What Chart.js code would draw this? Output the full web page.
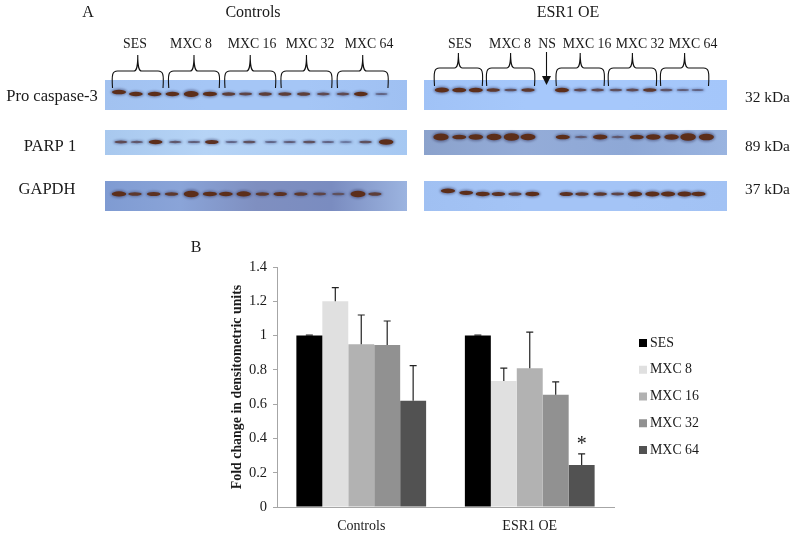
<!DOCTYPE html>
<html>
<head>
<meta charset="utf-8">
<title>Pro caspase-3, PARP 1 and GAPDH blots</title>
<script src="https://cdn.jsdelivr.net/npm/chart.js@4"></script>
<style>
    html, body { margin: 0; padding: 0; background: #fff; }
    canvas { display: block; }
</style>
</head>
<body>
<canvas id="blotChart" width="800" height="225"></canvas>
<canvas id="barChart" width="800" height="311"></canvas>
<script>
// bar chart values
const groups = ['Controls', 'ESR1 OE'];
const seriesNames = ['SES', 'MXC 8', 'MXC 16', 'MXC 32', 'MXC 64'];
const sesValues = [1, 1];
const mxc8Values = [1.2, 0.735];
const mxc16Values = [0.95, 0.81];
const mxc32Values = [0.945, 0.655];
const mxc64Values = [0.62, 0.245];
// top end of each error bar
const sesUpper = [1.003, 1.003];
const mxc8Upper = [1.28, 0.81];
const mxc16Upper = [1.12, 1.02];
const mxc32Upper = [1.085, 0.73];
const mxc64Upper = [0.825, 0.31];
const yTicks = [0, 0.2, 0.4, 0.6, 0.8, 1, 1.2, 1.4];

// blot lanes, band position in lane units, band density 0..1
const controlsProLanes = [1, 1.9, 2.9, 3.85, 4.85, 5.85, 6.85, 7.75, 8.8, 9.85, 10.85, 11.9, 12.95, 13.9, 15];
const controlsParpLanes = [1.1, 1.95, 2.95, 4, 5, 5.95, 7, 7.95, 9.1, 10.1, 11.15, 12.15, 13.1, 14.15, 15.25];
const controlsGapdhLanes = [1, 1.85, 2.85, 3.8, 4.85, 5.85, 6.7, 7.65, 8.65, 9.6, 10.7, 11.7, 12.7, 13.75, 14.65];
const esrProLanes = [1.05, 2.05, 3, 4, 5, 6, 7.95, 9, 10, 11.05, 12, 13, 13.95, 14.9, 15.75];
const esrParpLanes = [1, 2.05, 3, 4.05, 5.05, 6, 8, 9.05, 10.15, 11.15, 12.25, 13.2, 14.25, 15.2, 16.25];
const esrGapdhLanes = [1.4, 2.45, 3.4, 4.3, 5.25, 6.25, 8.2, 9.1, 10.15, 11.15, 12.15, 13.15, 14.05, 15, 15.8];

const controlsProDensity = [.6, .55, .55, .55, .8, .6, .4, .35, .4, .4, .4, .3, .3, .55, .1];
const controlsParpDensity = [.3, .2, .55, .2, .15, .5, .08, .25, .08, .15, .25, .1, .05, .25, .75];
const controlsGapdhDensity = [.7, .45, .5, .45, .85, .6, .55, .7, .45, .5, .45, .35, .25, .85, .4];
const esrProDensity = [.65, .6, .6, .45, .25, .45, .6, .3, .3, .25, .3, .45, .22, .15, .1];
const esrParpDensity = [.95, .6, .75, .85, 1, .85, .6, .2, .7, .2, .6, .75, .75, 1, .9];
const esrGapdhDensity = [.65, .55, .6, .5, .4, .6, .5, .45, .45, .35, .65, .65, .65, .65, .6];

// row height of the bands, row units
const proLevel = [0, -0.083];
const parpLevel = [1, 0.896];
const gapdhLevel = [2.083, 2.083];
const controlsProShift = [-.04];
const esrGapdhShift = [-.065, -.025];

const bracketLanes = [[1, 3], [4, 6], [7, 9], [10, 12], [13, 15]];
const esrBracketLanes = [[1, 3], [4, 6], [8, 10], [11, 13], [14, 16]];

const serif = '"Liberation Serif", "Times New Roman", serif';
const barColors = ['#000000', '#e0e0e0', '#b2b2b2', '#919191', '#525252'];

function bandPoints(lanes, density, level, shift) {
    return lanes.map((lane, i) => ({ x: lane, y: level + (shift && shift[i] || 0), density: density[i] }));
}

function blotSet(lanes, density, level, shift, axis) {
    return { data: bandPoints(lanes, density, level, shift), xAxisID: axis, yAxisID: 'row', pointRadius: 0, showLine: false };
}

function mix(a, b, t) {
    return 'rgb(' + a.map((v, i) => Math.round(v + (b[i] - v) * t)).join(',') + ')';
}

function put(ctx, text, x, y, font, align) {
    ctx.font = font;
    ctx.textAlign = align || 'center';
    ctx.textBaseline = 'middle';
    ctx.fillStyle = '#1a1a1a';
    ctx.fillText(text, x, y);
}

function panel(ctx, x, y, w, h, stops) {
    const g = ctx.createLinearGradient(x, 0, x + w, 0);
    stops.forEach((c, i) => g.addColorStop(i / (stops.length - 1), c));
    ctx.fillStyle = g;
    ctx.fillRect(x, y, w, h);
}

function brace(ctx, x1, x2, top, end, tip) {
    const mid = (x1 + x2) / 2;
    ctx.beginPath();
    ctx.moveTo(x1, end);
    ctx.bezierCurveTo(x1 - 1, top + 3, x1, top, x1 + 5, top);
    ctx.lineTo(mid - 4, top);
    ctx.bezierCurveTo(mid - 1, top, mid, top - 4, mid, tip);
    ctx.bezierCurveTo(mid, top - 4, mid + 1, top, mid + 4, top);
    ctx.lineTo(x2 - 5, top);
    ctx.bezierCurveTo(x2, top, x2 + 1, top + 3, x2, end);
    ctx.stroke();
}

const blotPlugin = {
    id: 'blotPlugin',
    beforeDatasetsDraw(chart) {
        const ctx = chart.ctx;
        panel(ctx, 105, 80, 302, 30, ['#a2c2f0', '#a5c6f6', '#a5c6f6', '#9fc0f2']);
        panel(ctx, 424, 80, 303, 30, ['#a0c2f6', '#a6c8fb', '#a6c8fb', '#a4c6fa']);
        panel(ctx, 105, 130, 302, 25, ['#a8c8ee', '#b6d4f6', '#afcef4', '#a6c8f2']);
        panel(ctx, 424, 130, 303, 25, ['#8ba2cc', '#94acd8', '#8ea8d6', '#9ab4e0']);
        panel(ctx, 105, 181, 302, 30, ['#7f9bd2', '#8aa4d8', '#7f8fc0', '#7a8cc0', '#9cb4e0']);
        panel(ctx, 424, 181, 303, 30, ['#a0c0f2', '#a4c4f6', '#a4c4f6', '#a2c2f4']);
    },
    afterDatasetsDraw(chart) {
        const ctx = chart.ctx;
        ctx.save();
        chart.data.datasets.forEach((set, s) => {
            chart.getDatasetMeta(s).data.forEach((pt, i) => {
                const d = set.data[i].density;
                const rx = 6.4 + 2 * d;
                const ry = 1 + 3 * d + d * d * d;
                ctx.filter = 'blur(1.1px)';
                ctx.globalAlpha = 0.55;
                ctx.fillStyle = mix([96, 118, 168], [66, 70, 110], Math.min(1, d * 1.6));
                ctx.beginPath();
                ctx.ellipse(pt.x, pt.y, rx + 0.7, ry + 0.5, 0, 0, Math.PI * 2);
                ctx.fill();
                ctx.filter = 'blur(0.7px)';
                ctx.globalAlpha = 1;
                ctx.fillStyle = mix([98, 112, 156], [92, 46, 26], Math.min(1, d * 1.9));
                ctx.beginPath();
                ctx.ellipse(pt.x, pt.y, rx - 0.6, ry * 0.76, 0, 0, Math.PI * 2);
                ctx.fill();
            });
        });
        ctx.restore();

        // brackets, from the lanes they span
        ctx.save();
        ctx.strokeStyle = '#111';
        ctx.lineWidth = 1.1;
        const xc = chart.scales.laneControls, xe = chart.scales.laneEsr;
        bracketLanes.forEach(b => brace(ctx, xc.getPixelForValue(b[0]) - 6.5, xc.getPixelForValue(b[1]) + 6.5, 71, 88, 55));
        esrBracketLanes.forEach(b => brace(ctx, xe.getPixelForValue(b[0]) - 6.5, xe.getPixelForValue(b[1]) + 6.5, 68, 86, 53));
        // NS arrow
        ctx.beginPath();
        ctx.moveTo(546.5, 52);
        ctx.lineTo(546.5, 78);
        ctx.stroke();
        ctx.fillStyle = '#111';
        ctx.beginPath();
        ctx.moveTo(542, 76);
        ctx.lineTo(551, 76);
        ctx.lineTo(546.5, 85);
        ctx.closePath();
        ctx.fill();
        ctx.restore();

        const big = '16px ' + serif, lane = '13.8px ' + serif;
        put(ctx, 'A', 88, 13, big);
        put(ctx, 'Controls', 253, 13, big);
        put(ctx, 'ESR1 OE', 568, 13, big);
        [['SES', 135], ['MXC 8', 191], ['MXC 16', 252], ['MXC 32', 310], ['MXC 64', 369],
         ['SES', 460], ['MXC 8', 510], ['NS', 547], ['MXC 16', 587], ['MXC 32', 640], ['MXC 64', 693]]
            .forEach(t => put(ctx, t[0], t[1], 44, lane));
        const row = '16.6px ' + serif;
        put(ctx, 'Pro caspase-3', 52, 97, row);
        put(ctx, 'PARP 1', 50, 147, row);
        put(ctx, 'GAPDH', 47, 190, row);
        const kda = '15.4px ' + serif;
        put(ctx, '32 kDa', 745, 98, kda, 'left');
        put(ctx, '89 kDa', 745, 147, kda, 'left');
        put(ctx, '37 kDa', 745, 190, kda, 'left');
    }
};

new Chart(document.getElementById('blotChart'), {
    type: 'scatter',
    data: {
        datasets: [
            blotSet(controlsProLanes, controlsProDensity, proLevel[0], controlsProShift, 'laneControls'),
            blotSet(controlsParpLanes, controlsParpDensity, parpLevel[0], null, 'laneControls'),
            blotSet(controlsGapdhLanes, controlsGapdhDensity, gapdhLevel[0], null, 'laneControls'),
            blotSet(esrProLanes, esrProDensity, proLevel[1], null, 'laneEsr'),
            blotSet(esrParpLanes, esrParpDensity, parpLevel[1], null, 'laneEsr'),
            blotSet(esrGapdhLanes, esrGapdhDensity, gapdhLevel[1], esrGapdhShift, 'laneEsr')
        ]
    },
    options: {
        responsive: false,
        animation: false,
        events: [],
        layout: { padding: 0 },
        scales: {
            laneControls: { type: 'linear', axis: 'x', display: false, min: -5.349, max: 37.328 },
            laneEsr: { type: 'linear', axis: 'x', display: false, min: -24.345, max: 21.632 },
            row: { type: 'linear', axis: 'y', display: false, reverse: true, min: -1.958, max: 2.729 }
        },
        plugins: { legend: { display: false }, tooltip: { enabled: false } }
    },
    plugins: [blotPlugin]
});

const upperBySeries = [sesUpper, mxc8Upper, mxc16Upper, mxc32Upper, mxc64Upper];

const errorBarPlugin = {
    id: 'errorBarPlugin',
    afterDatasetsDraw(chart) {
        const ctx = chart.ctx, y = chart.scales.y;
        ctx.save();
        ctx.strokeStyle = '#222';
        ctx.lineWidth = 1.2;
        upperBySeries.forEach((upper, s) => {
            chart.getDatasetMeta(s).data.forEach((bar, i) => {
                const top = y.getPixelForValue(upper[i]);
                ctx.beginPath();
                ctx.moveTo(bar.x, bar.y);
                ctx.lineTo(bar.x, top);
                ctx.moveTo(bar.x - 3.5, top);
                ctx.lineTo(bar.x + 3.5, top);
                ctx.stroke();
            });
        });
        ctx.restore();
        // significance mark over ESR1 OE, MXC 64
        const last = chart.getDatasetMeta(4).data[1];
        put(ctx, '*', last.x, y.getPixelForValue(mxc64Upper[1]) - 9, '20px ' + serif);
        put(ctx, 'B', 196, 23, '16px ' + serif);
        // legend, squares and labels
        seriesNames.forEach((name, i) => {
            const ly = 118 + i * 26.75;
            ctx.fillStyle = barColors[i];
            ctx.fillRect(639, ly - 4, 8, 8);
            put(ctx, name, 650, ly, '13.9px ' + serif, 'left');
        });
    }
};

new Chart(document.getElementById('barChart'), {
    type: 'bar',
    data: {
        labels: groups,
        datasets: [sesValues, mxc8Values, mxc16Values, mxc32Values, mxc64Values].map((values, i) => ({
            label: seriesNames[i],
            data: values,
            backgroundColor: barColors[i],
            borderWidth: 0,
            categoryPercentage: 0.77,
            barPercentage: 1
        }))
    },
    options: {
        responsive: false,
        animation: false,
        events: [],
        layout: { padding: { left: 229, top: 42, right: 186, bottom: 0 } },
        scales: {
            x: {
                afterFit(s) { s.height = 29; },
                grid: { display: false },
                border: { color: '#a6a6a6' },
                ticks: { color: '#1a1a1a', font: { family: serif, size: 14 }, padding: 3 }
            },
            y: {
                min: 0,
                max: 1.4,
                afterFit(s) { s.width = 48; },
                afterBuildTicks(s) { s.ticks = yTicks.map(v => ({ value: v })); },
                grid: { drawOnChartArea: false, color: '#a6a6a6', tickLength: 4 },
                border: { color: '#a6a6a6' },
                ticks: {
                    color: '#1a1a1a',
                    font: { family: serif, size: 14.5 },
                    padding: 6,
                    callback: v => String(v)
                },
                title: {
                    display: true,
                    text: 'Fold change in densitometric units',
                    color: '#1a1a1a',
                    font: { family: serif, size: 13.9, weight: 'bold' },
                    padding: 0
                }
            }
        },
        plugins: {
            tooltip: { enabled: false },
            legend: { display: false }
        }
    },
    plugins: [errorBarPlugin]
});
</script>
</body>
</html>
